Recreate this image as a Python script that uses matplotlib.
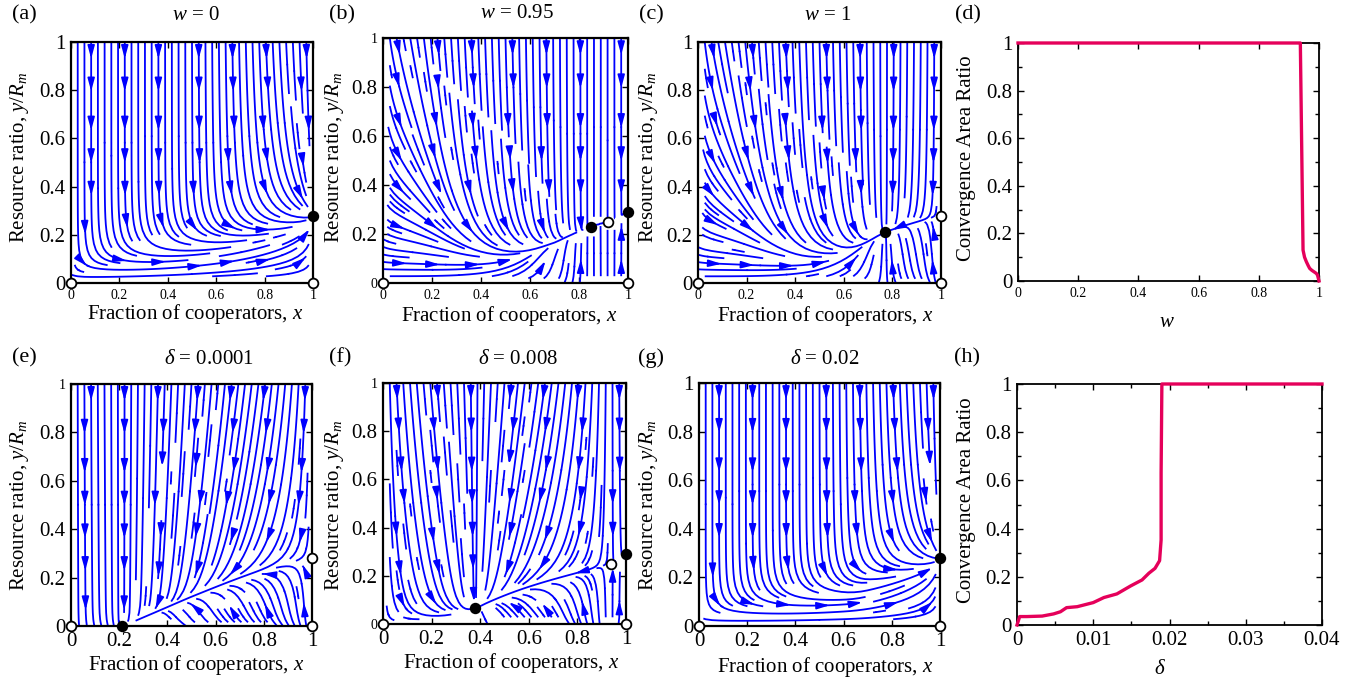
import numpy as np
import matplotlib
matplotlib.use("Agg")
import matplotlib.pyplot as plt
from matplotlib.patches import FancyArrowPatch
from matplotlib.ticker import MultipleLocator

plt.rcParams['font.family'] = ['Liberation Serif', 'DejaVu Serif']
plt.rcParams['mathtext.fontset'] = 'custom'
plt.rcParams['mathtext.rm'] = 'Liberation Serif'
plt.rcParams['mathtext.it'] = 'Liberation Serif:italic'

# ---------------- data ----------------
# panel (d): convergence area ratio vs w
w_vals = [0.0, 0.938, 0.947, 0.952, 0.958, 0.964, 0.969, 0.976, 0.983, 0.991, 0.995, 1.0]
ratio_w = [1.0, 1.0, 0.13, 0.10, 0.081, 0.065, 0.053, 0.045, 0.039, 0.032, 0.025, 0.0]
# panel (h): convergence area ratio vs delta
delta_vals = [0.0, 0.00035, 0.0013, 0.0033, 0.0048, 0.0057, 0.0065, 0.0079, 0.0100,
              0.0114, 0.0131, 0.0149, 0.0164, 0.0173, 0.0181, 0.0187, 0.0189, 0.0189,
              0.0190, 0.0400]
ratio_d = [0.0, 0.035, 0.035, 0.037, 0.046, 0.055, 0.072, 0.076, 0.093, 0.114, 0.129,
           0.162, 0.187, 0.215, 0.235, 0.267, 0.353, 0.63, 1.0, 1.0]

# phase portraits: titles, fixed points (stable = filled, unstable = open)
titles = ["$w$ = 0", "$w$ = 0.95", "$w$ = 1", r"$\delta$ = 0.0001", r"$\delta$ = 0.008", r"$\delta$ = 0.02"]
stable_pts = [[(1.0, 0.28)],
              [(0.85, 0.23), (1.0, 0.29)],
              [(0.77, 0.21)],
              [(0.21, 0.0)],
              [(0.38, 0.065), (1.0, 0.29)],
              [(1.0, 0.28)]]
unstable_pts = [[(0, 0), (1, 0)],
                [(0, 0), (1, 0), (0.92, 0.25)],
                [(0, 0), (1, 0), (1.0, 0.28)],
                [(0, 0), (1, 0), (1.0, 0.28)],
                [(0, 0), (1, 0), (0.94, 0.25)],
                [(0, 0), (1, 0)]]
# qualitative vector-field parameters of each portrait
# selection term: A * prod(x - roots) * (y0 + y)  +  E * prod(x - roots2) * exp(-y / ys)
field_A = [0.35, 0.35, -0.2, -1.0, 7.0, 0.3]
field_roots = [[0.0] * 6, [0.85, 0.92], [0.77], [0.21], [0.38, 0.94], [0.0] * 6]
field_y0 = [1.0, 1.0, 1.0, 0.02, 0.02, 1.0]
field_E = [0.5, 0.0, 0.0, -0.3, 1.0, 0.5]
field_roots2 = [[], [], [], [0.21], [0.38, 0.94], []]
field_ys = [0.12, 0.1, 0.1, 0.06, 0.1, 0.1]
field_lb = [0, 30, 45, 0, 0, 0]
field_q = [1.0, 1.0, 1.0, 0.5, 0.5, 1.0]
# resource nullcline control points
null_x = [[0, 0.2, 0.5, 0.8, 1.0],
          [0, 0.4, 0.7, 0.85, 0.92, 1.0],
          [0, 0.4, 0.6, 0.77, 1.0],
          [0, 0.25, 0.5, 0.75, 1.0],
          [0, 0.2, 0.38, 0.7, 0.94, 1.0],
          [0, 0.3, 0.6, 0.7, 1.0]]
null_y = [[0.0, 0.05, 0.14, 0.22, 0.28],
          [0.02, 0.09, 0.17, 0.23, 0.25, 0.29],
          [0.02, 0.08, 0.14, 0.21, 0.28],
          [-0.06, 0.01, 0.11, 0.20, 0.28],
          [-0.01, 0.03, 0.065, 0.17, 0.25, 0.29],
          [-0.01, 0.04, 0.12, 0.19, 0.28]]

ticks01 = [0, 0.2, 0.4, 0.6, 0.8, 1]
tick01_labels = ['0', '0.2', '0.4', '0.6', '0.8', '1']

BIG, SMALL = 15, 10
BLUE = '#0000FF'
RED = '#E5005A'

fig = plt.figure(figsize=(13.64, 6.83), dpi=100)
W, H = 1364.0, 683.0


def add_ax(l, r, t, b):
    return fig.add_axes([l / W, 1 - b / H, (r - l) / W, (b - t) / H])


phase_boxes = [(71, 313, 42, 283), (383, 628, 38, 283), (698, 941, 42, 283),
               (71, 312, 384, 626), (383, 626, 383, 624), (699, 940, 383, 626)]
xtick_small = [True, True, True, False, False, False]
ytick_small_idx = [[], [0, 5], [], [5], [0, 5], []]


def field(X, Y, i):
    P1 = field_A[i] * np.ones_like(X)
    for r in field_roots[i]:
        P1 = P1 * (X - r)
    P2 = field_E[i] * np.ones_like(X)
    for r in field_roots2[i]:
        P2 = P2 * (X - r)
    boost = 1 + field_lb[i] * np.exp(-X / 0.08)
    U = X * (1 - X) * boost * (P1 * (Y + field_y0[i]) + P2 * np.exp(-Y / field_ys[i]))
    N = np.interp(X, null_x[i], null_y[i])
    V = Y ** field_q[i] * (N - Y) * (1 + 1.5 * (1 - X) ** 2)
    return U, V


xg = np.linspace(0, 1, 201)
yg = np.linspace(0, 1, 201)
XG, YG = np.meshgrid(xg, yg)
arrow_gx = [0.07, 0.22, 0.37, 0.52, 0.66, 0.81, 0.96]
arrow_gy = [0.09, 0.23, 0.37, 0.52, 0.66, 0.81, 0.95]

for i, box in enumerate(phase_boxes):
    ax = add_ax(*box)
    U, V = field(XG, YG, i)
    sp = ax.streamplot(xg, yg, U, V, density=1.25, color=BLUE, linewidth=1.3,
                       arrowstyle='-', minlength=0.05, maxlength=4.0, zorder=2)
    segs = sp.lines.get_segments()
    verts = np.concatenate([s for s in segs if len(s) > 0])
    for gx in arrow_gx:
        for gy in arrow_gy:
            d = np.hypot(verts[:, 0] - gx, verts[:, 1] - gy)
            k = np.argmin(d)
            if d[k] > 0.03:
                continue
            px, py = verts[k]
            if px < 0.01 or px > 0.99 or py < 0.01 or py > 0.99:
                continue
            u, v = field(np.array([px]), np.array([py]), i)
            n = np.hypot(u[0], v[0])
            if n == 0:
                continue
            dx, dy = u[0] / n, v[0] / n
            arr = FancyArrowPatch((px - 0.03 * dx, py - 0.03 * dy), (px + 0.015 * dx, py + 0.015 * dy),
                                  arrowstyle='-|>,head_length=0.55,head_width=0.15',
                                  mutation_scale=14, color=BLUE, lw=1.2, zorder=3,
                                  shrinkA=0, shrinkB=0)
            ax.add_patch(arr)
    for (sx, sy) in stable_pts[i]:
        ax.plot(sx, sy, 'o', ms=7, mfc='k', mec='k', mew=1.2, clip_on=False, zorder=10)
    for (ux, uy) in unstable_pts[i]:
        ax.plot(ux, uy, 'o', ms=7, mfc='white', mec='k', mew=1.3, clip_on=False, zorder=10)
    ax.set_xlim(0, 1)
    ax.set_ylim(0, 1)
    ax.set_xticks(ticks01)
    ax.set_yticks(ticks01)
    ax.set_xticklabels(tick01_labels, fontsize=SMALL if xtick_small[i] else BIG)
    ax.set_yticklabels(tick01_labels, fontsize=BIG)
    for j in ytick_small_idx[i]:
        ax.get_yticklabels()[j].set_fontsize(SMALL)
    ax.tick_params(direction='in', top=True, right=True, length=4, width=1, pad=4)
    for s in ax.spines.values():
        s.set_linewidth(1.6)
        s.set_zorder(5)

# curve panels
ax_d = add_ax(1018, 1319, 43, 281)
ax_d.plot(w_vals, ratio_w, color=RED, lw=2.4, clip_on=False, zorder=4)
ax_d.set_xlim(0, 1)
ax_d.set_ylim(0, 1)
ax_d.set_xticks(ticks01)
ax_d.set_xticklabels(tick01_labels, fontsize=SMALL)
ax_d.set_yticks(ticks01)
ax_d.set_yticklabels(tick01_labels, fontsize=BIG)
ax_d.yaxis.set_minor_locator(MultipleLocator(0.1))

ax_h = add_ax(1017, 1322, 384, 625)
ax_h.plot(delta_vals, ratio_d, color=RED, lw=2.4, clip_on=False, zorder=4)
ax_h.set_xlim(0, 0.04)
ax_h.set_ylim(0, 1)
ax_h.set_xticks([0, 0.01, 0.02, 0.03, 0.04])
ax_h.set_xticklabels(['0', '0.01', '0.02', '0.03', '0.04'], fontsize=BIG)
ax_h.set_yticks(ticks01)
ax_h.set_yticklabels(tick01_labels, fontsize=BIG)
ax_h.xaxis.set_minor_locator(MultipleLocator(0.005))
ax_h.yaxis.set_minor_locator(MultipleLocator(0.1))

for ax in (ax_d, ax_h):
    ax.tick_params(which='both', direction='in', top=True, right=True, width=1, pad=4)
    ax.tick_params(which='major', length=4)
    ax.tick_params(which='minor', length=3)
    for s in ax.spines.values():
        s.set_linewidth(1.3)


def ftext(x, y, s, size=BIG, **kw):
    fig.text(x / W, 1 - y / H, s, fontsize=size, ha='center', va='center', **kw)


# panel labels
for lab, (x, y) in zip(['(a)', '(b)', '(c)', '(d)', '(e)', '(f)', '(g)', '(h)'],
                       [(24, 15), (342, 15), (651, 15), (968, 15),
                        (24, 358), (340, 358), (651, 358), (967, 358)]):
    ftext(x, y, lab, size=16)

# titles
for t, (x, y) in zip(titles, [(196, 15), (517, 14), (828, 15), (209, 360), (518, 360), (825, 360)]):
    ftext(x, y, t)

# axis labels
for (x, y) in [(195, 314), (509, 316), (825, 316), (196, 665), (511, 663), (825, 667)]:
    ftext(x, y, 'Fraction of cooperators, $x$')
for (x, y) in [(20, 157), (334, 157), (648, 157), (20, 505), (334, 505), (648, 505)]:
    ftext(x, y, 'Resource ratio, $y/R_m$', rotation=90)
ftext(967, 158, 'Convergence Area Ratio', rotation=90)
ftext(966, 500, 'Convergence Area Ratio', rotation=90)
ftext(1167, 322, '$w$')
ftext(1160, 669, r'$\delta$')

fig.savefig('out.png', dpi=100)
